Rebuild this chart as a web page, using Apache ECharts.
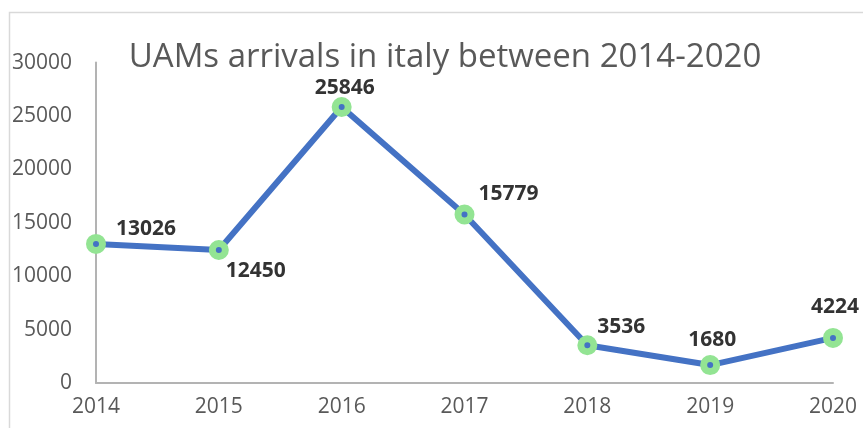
<!DOCTYPE html>
<html>
<head>
<meta charset="utf-8">
<script src="https://cdn.jsdelivr.net/npm/echarts@6/dist/echarts.min.js"></script>
<style>html,body{margin:0;padding:0;background:#fff}#c{width:863px;height:428px}</style>
</head>
<body>
<div id="c"></div>
<script>
const years = ['2014','2015','2016','2017','2018','2019','2020'];
const arrivals = [13026, 12450, 25846, 15779, 3536, 1680, 4224];
const yTicks = {min: 0, max: 30000, interval: 5000};
const titleText = 'UAMs arrivals in italy between 2014-2020';
// label offsets relative to each point (layout only)
const labelOffsets = [[50,-15],[37,21],[3,-19],[44,-20],[34,-18],[2,-25],[2,-31]];

const chart = echarts.init(document.getElementById('c'));
chart.setOption({
  animation: false,
  title: {
    text: titleText,
    left: 440, top: 36, textAlign: 'center',
    textStyle: {fontFamily: 'Open Sans', fontSize: 33, fontWeight: 'normal', color: '#595959'}
  },
  graphic: [{type: 'rect', shape: {x: 9.5, y: 12.5, width: 900, height: 600},
    style: {fill: 'none', stroke: '#d9d9d9', lineWidth: 1.5}, z: -10}],
  grid: {left: 96, right: 30, top: 62.6, bottom: 45},
  xAxis: {
    type: 'category', data: years, boundaryGap: false,
    axisLine: {lineStyle: {color: '#b3b3b3', width: 2}},
    axisTick: {show: false},
    axisLabel: {color: '#595959', fontFamily: 'Open Sans', fontSize: 21, margin: 14}
  },
  yAxis: {
    type: 'value', min: yTicks.min, max: yTicks.max, interval: yTicks.interval,
    axisLine: {show: true, lineStyle: {color: '#b3b3b3', width: 2}},
    axisTick: {show: false},
    splitLine: {show: false},
    axisLabel: {color: '#595959', fontFamily: 'Open Sans', fontSize: 21, margin: 24,
      formatter: v => String(v)}
  },
  series: [{
    type: 'line',
    data: arrivals.map((v, i) => ({
      value: v,
      label: {offset: labelOffsets[i]}
    })),
    lineStyle: {color: '#4472c4', width: 6},
    symbol: 'circle', symbolSize: 13,
    itemStyle: {color: '#4472c4', borderColor: '#93e493', borderWidth: 7},
    label: {show: true, position: 'inside', fontFamily: 'Open Sans', fontWeight: 'bold',
      fontSize: 21, color: '#333333'}
  }]
});
</script>
</body>
</html>
